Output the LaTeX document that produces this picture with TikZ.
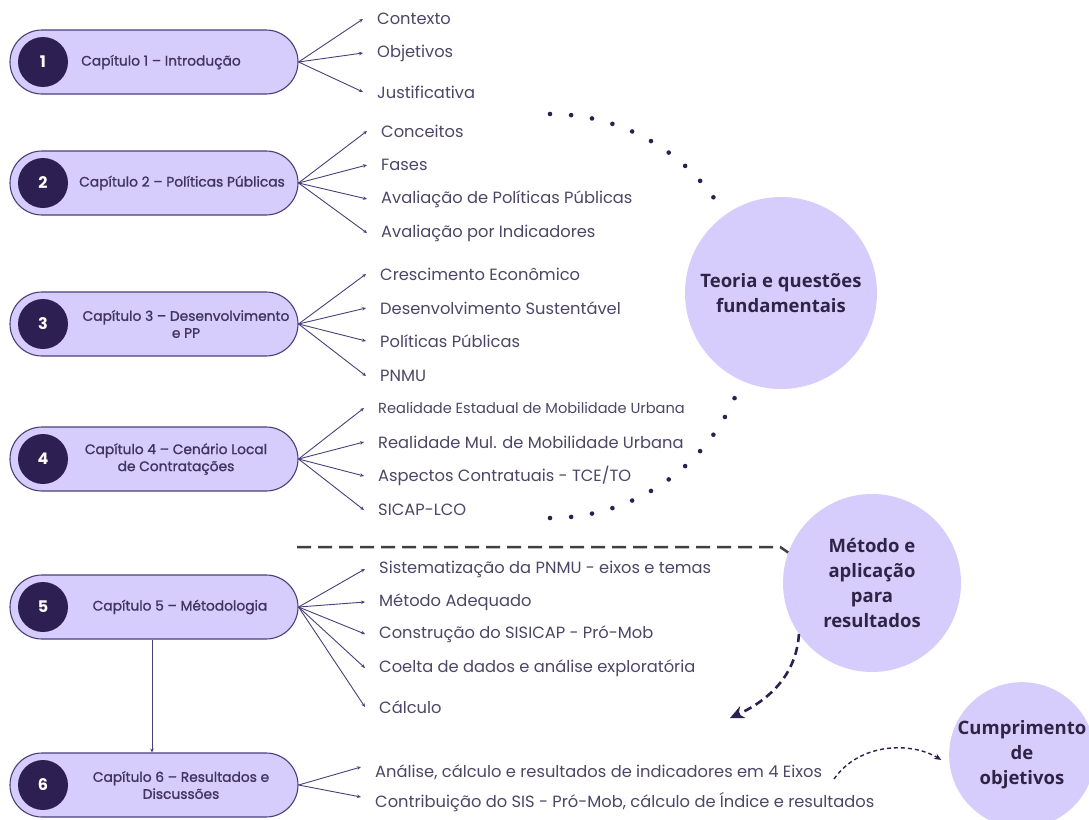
\documentclass[tikz,border=0pt]{standalone}
\usepackage{fontspec}
\setmainfont{Poppins}
\newfontfamily\capfont{Poppins}[FakeBold=1.2]
\newfontfamily\circfont{Open Sans}
\usetikzlibrary{arrows.meta,positioning,shapes.misc}
\definecolor{lilas}{HTML}{D6CDFC}
\definecolor{roxo}{HTML}{2E1F52}
\definecolor{borda}{HTML}{4B3F7A}
\definecolor{texto}{HTML}{4D4666}
\definecolor{captexto}{HTML}{3F3560}
\definecolor{escuro}{HTML}{2F2346}

\begin{document}
\begin{tikzpicture}[x=1pt,y=-1pt,
  pilula/.style={rounded rectangle, draw=borda, line width=1.1pt, fill=lilas,
    minimum width=288pt, minimum height=64pt, inner sep=0pt},
  numero/.style={circle, fill=roxo, minimum size=50pt, inner sep=0pt, text=white,
    font=\bfseries\fontsize{16}{16}\selectfont},
  titulo/.style={align=center, inner sep=0pt, text=captexto,
    font=\capfont\fontsize{13.8}{17}\selectfont},
  item/.style={anchor=west, inner sep=0pt, text=texto, font=\fontsize{16.3}{19}\selectfont},
  ramo/.style={draw=borda, line width=0.9pt, -{Stealth[length=4pt,width=3.5pt]}},
  bola/.style={circle, fill=lilas, inner sep=0pt, align=center, text=escuro,
    font=\circfont\bfseries\fontsize{18.5}{25}\selectfont}]
\fill[white] (0,0) rectangle (1089,819);
\useasboundingbox (0,0) rectangle (1089,819);

% Capitulos
\node[pilula] (cap1) at (154,62) {};
\node[numero] (n1) at (43,62) {1};
\node[titulo] (t1) at (161,62) {Capítulo 1 – Introdução};

\node[pilula] (cap2) at (154,183) {};
\node[numero] (n2) at (43,183) {2};
\node[titulo] (t2) at (182,183) {Capítulo 2 – Políticas Públicas};

\node[pilula] (cap3) at (154,324) {};
\node[numero] (n3) at (43,324) {3};
\node[titulo] (t3) at (186,324) {Capítulo 3 – Desenvolvimento\\e PP};

\node[pilula] (cap4) at (154,459) {};
\node[numero] (n4) at (43,459) {4};
\node[titulo] (t4) at (176,459) {Capítulo 4 – Cenário Local\\de Contratações};

\node[pilula] (cap5) at (154,607) {};
\node[numero] (n5) at (43,607) {5};
\node[titulo] (t5) at (180,607) {Capítulo 5 – Métodologia};

\node[pilula] (cap6) at (154,785) {};
\node[numero] (n6) at (43,785) {6};
\node[titulo] (t6) at (181,785) {Capítulo 6 – Resultados e\\Discussões};

% Topicos
\node[item] (c1a) at (377,19) {Contexto};
\node[item] (c1b) at (377,53) {Objetivos};
\node[item] (c1c) at (377,92) {Justificativa};

\node[item] (c2a) at (381,131) {Conceitos};
\node[item] (c2b) at (381,165) {Fases};
\node[item] (c2c) at (381,199) {Avaliação de Políticas Públicas};
\node[item] (c2d) at (381,233) {Avaliação por Indicadores};

\node[item] (c3a) at (380,274) {Crescimento Econômico};
\node[item] (c3b) at (380,308) {Desenvolvimento Sustentável};
\node[item] (c3c) at (380,341) {Políticas Públicas};
\node[item] (c3d) at (380,376) {PNMU};

\node[item, font=\fontsize{14.6}{17}\selectfont] (c4a) at (378,408) {Realidade Estadual de Mobilidade Urbana};
\node[item] (c4b) at (378,442) {Realidade Mul. de Mobilidade Urbana};
\node[item] (c4c) at (378,476) {Aspectos Contratuais - TCE/TO};
\node[item] (c4d) at (378,510) {SICAP-LCO};

\node[item] (c5a) at (379,569) {Sistematização da PNMU - eixos e temas};
\node[item] (c5b) at (379,602) {Método Adequado};
\node[item] (c5c) at (379,634) {Construção do SISICAP - Pró-Mob};
\node[item] (c5d) at (379,668) {Coelta de dados e análise exploratória};
\node[item] (c5e) at (379,707) {Cálculo};

\node[item] (c6a) at (375,772) {Análise, cálculo e resultados de indicadores em 4 Eixos};
\node[item] (c6b) at (375,802) {Contribuição do SIS - Pró-Mob, cálculo de Índice e resultados};

% Ramos
\foreach \i in {a,b,c} \draw[ramo] (cap1.east) -- ([xshift=-14pt]c1\i.west);
\foreach \i in {a,b,c,d} \draw[ramo] (cap2.east) -- ([xshift=-14pt]c2\i.west);
\foreach \i in {a,b,c,d} \draw[ramo] (cap3.east) -- ([xshift=-14pt]c3\i.west);
\foreach \i in {a,b,c,d} \draw[ramo] (cap4.east) -- ([xshift=-14pt]c4\i.west);
\foreach \i in {a,b,c,d,e} \draw[ramo] (cap5.east) -- ([xshift=-14pt]c5\i.west);
\foreach \i in {a,b} \draw[ramo] (cap6.east) -- ([xshift=-14pt,yshift=5pt]c6\i.west);
\draw[ramo] ([xshift=-2pt]cap5.south) -- ([xshift=-2pt]cap6.north);

% Blocos
\node[bola, minimum size=192pt] (teoria) at (781,293) {Teoria e questões\\fundamentais};
\node[bola, minimum size=178pt] (metodo) at (872,583) {Método e\\aplicação\\para\\resultados};
\node[bola, minimum size=144pt] (cumpr) at (1022,755) {Cumprimento\\de\\objetivos};

% Arco pontilhado
\coordinate (arco) at (550,316);
\foreach \a in {-90,-84,...,-36} \fill[roxo] (arco) ++(\a:202) circle (2.3);
\foreach \a in {24,30,...,90} \fill[roxo] (arco) ++(\a:202) circle (2.3);

% Divisao e setas
\coordinate (divisa) at (297,547);
\draw[line width=2.5pt, black!75, dash pattern=on 14pt off 7pt]
  (divisa) -- ([xshift=-8pt]divisa -| metodo.160) -- (metodo.160);
\coordinate (alvo) at (730,718);
\draw[line width=2.6pt, roxo, dash pattern=on 8pt off 5pt, -{Stealth[length=14pt,width=13pt]}]
  (metodo.215) .. controls (796,678) and (765,702) .. (alvo);
\coordinate (saida) at (834,779);
\draw[line width=1.4pt, roxo, dash pattern=on 4pt off 3pt, -{Stealth[length=7pt,width=6pt]}, shorten >=10pt]
  (saida) .. controls (860,742) and (912,742) .. (cumpr.188);
\end{tikzpicture}
\end{document}
